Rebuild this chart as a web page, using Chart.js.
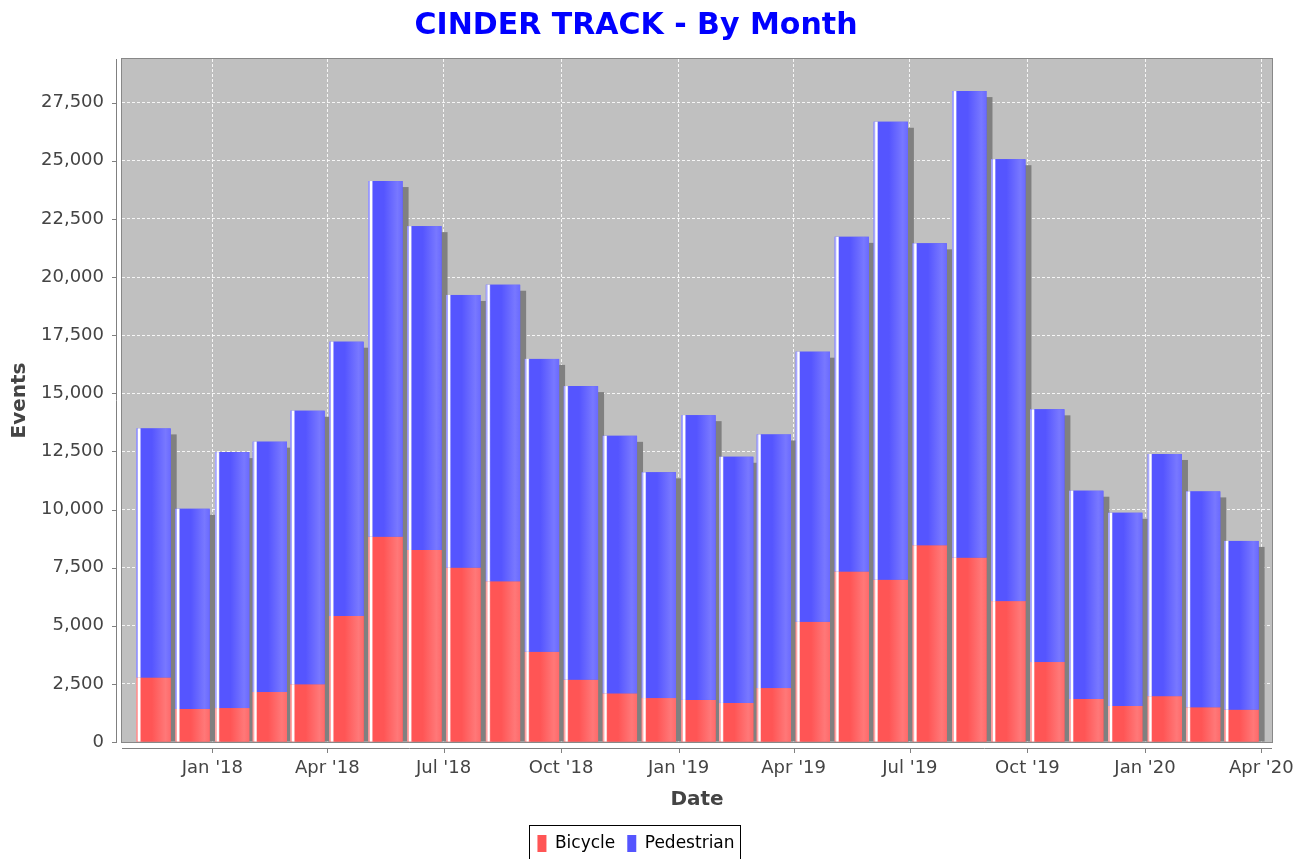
<!DOCTYPE html>
<html>
<head>
<meta charset="utf-8">
<title>CINDER TRACK - By Month</title>
<script src="https://cdn.jsdelivr.net/npm/chart.js@4.4.1/dist/chart.umd.min.js"></script>
<style>
  html, body { margin: 0; padding: 0; background: #fff; overflow: hidden; }
</style>
</head>
<body>
<canvas id="chart" width="1310" height="880"></canvas>
<script>
const months = [
  '2017-11', '2017-12',
  '2018-01', '2018-02', '2018-03', '2018-04', '2018-05', '2018-06',
  '2018-07', '2018-08', '2018-09', '2018-10', '2018-11', '2018-12',
  '2019-01', '2019-02', '2019-03', '2019-04', '2019-05', '2019-06',
  '2019-07', '2019-08', '2019-09', '2019-10', '2019-11', '2019-12',
  '2020-01', '2020-02', '2020-03'
];
const bicycle = [
  2770, 1420,
  1460, 2150, 2480, 5420, 8830, 8260, 7500, 6910, 3880, 2680, 2090, 1890,
  1810, 1680, 2320, 5170, 7330, 6980, 8460, 7930, 6060, 3440, 1850, 1550,
  1970, 1490, 1390
];
const pedestrian = [
  10720, 8610,
  11010, 10770, 11770, 11800, 15300, 13930, 11730, 12760, 12600, 12630, 11080, 9710,
  12250, 10590, 10910, 11620, 14400, 19700, 12990, 20070, 19010, 10870, 8960, 8310,
  10420, 9290, 7260
];
const tickMonths = ['2018-01', '2018-04', '2018-07', '2018-10', '2019-01',
                    '2019-04', '2019-07', '2019-10', '2020-01', '2020-04'];
const tickLabels = ["Jan '18", "Apr '18", "Jul '18", "Oct '18", "Jan '19",
                    "Apr '19", "Jul '19", "Oct '19", "Jan '20", "Apr '20"];
const yTicks = [0, 2500, 5000, 7500, 10000, 12500, 15000, 17500, 20000, 22500, 25000, 27500];

const FONT = "'DejaVu Sans', sans-serif";
const t0 = Date.UTC(2018, 0, 1);

// days since 1 Jan 2018 for the first day of a month (m may overflow)
function dayOf(y, m) {
  return (Date.UTC(y, m - 1, 1) - t0) / 86400000;
}
function monthStart(ym) {
  const [y, m] = ym.split('-').map(Number);
  return dayOf(y, m);
}
function monthMid(ym) {
  const [y, m] = ym.split('-').map(Number);
  return (dayOf(y, m) + dayOf(y, m + 1)) / 2;
}

const colors = {
  Bicycle:    { base: '#ff5555', light: '#ff7878', mid: '#ff6a6a', edge: '#ffa8a8' },
  Pedestrian: { base: '#5555ff', light: '#7878ff', mid: '#6a6aff', edge: '#a8a8ff' }
};

function barGradient(ctx, left, width, c) {
  const g = ctx.createLinearGradient(left, 0, left + width, 0);
  g.addColorStop(0, c.edge);
  g.addColorStop(0.04, c.edge);
  g.addColorStop(0.06, '#ffffff');
  g.addColorStop(0.10, '#ffffff');
  g.addColorStop(0.14, c.base);
  g.addColorStop(0.45, c.base);
  g.addColorStop(0.85, c.light);
  g.addColorStop(1, c.mid);
  return g;
}

const jfreeLook = {
  id: 'jfreeLook',
  beforeDraw(chart) {
    const { ctx, chartArea: a } = chart;
    ctx.save();
    ctx.fillStyle = '#ffffff';
    ctx.fillRect(0, 0, chart.width, chart.height);
    ctx.fillStyle = '#c0c0c0';
    ctx.fillRect(a.left, a.top, a.right - a.left, a.bottom - a.top);
    ctx.restore();
  },
  beforeDatasetsDraw(chart) {
    // drop shadow behind each stacked bar
    const { ctx, chartArea: a } = chart;
    const low = chart.getDatasetMeta(0).data;
    const high = chart.getDatasetMeta(1).data;
    ctx.save();
    ctx.beginPath();
    ctx.rect(a.left, a.top, a.right - a.left, a.bottom - a.top);
    ctx.clip();
    ctx.fillStyle = '#808080';
    high.forEach((bar, i) => {
      const { x, y, width } = bar.getProps(['x', 'y', 'width'], true);
      const base = low[i].getProps(['base'], true).base;
      ctx.fillRect(x - width / 2 + 6, y + 6, width, base - y - 6);
    });
    ctx.restore();
  },
  afterDatasetsDraw(chart) {
    const { ctx, chartArea: a } = chart;
    ctx.save();
    chart.data.datasets.forEach((ds, di) => {
      const c = colors[ds.label];
      chart.getDatasetMeta(di).data.forEach(bar => {
        const { x, y, base, width } = bar.getProps(['x', 'y', 'base', 'width'], true);
        const left = x - width / 2;
        const top = Math.min(y, base);
        ctx.fillStyle = barGradient(ctx, left, width, c);
        ctx.fillRect(left, top, width, Math.abs(base - y));
      });
    });

    // plot outline
    ctx.strokeStyle = '#888888';
    ctx.lineWidth = 1;
    ctx.strokeRect(a.left - 0.5, a.top - 0.5, a.right - a.left + 1, a.bottom - a.top + 1);

    // axis lines, offset from the plot like JFreeChart
    const ys = chart.scales.y;
    const xs = chart.scales.x;
    ctx.strokeStyle = '#808080';
    ctx.beginPath();
    ctx.moveTo(a.left - 5.5, a.top);
    ctx.lineTo(a.left - 5.5, a.bottom);
    ys.ticks.forEach(t => {
      const py = Math.round(ys.getPixelForValue(t.value)) + 0.5;
      ctx.moveTo(a.left - 10, py);
      ctx.lineTo(a.left - 5, py);
    });
    ctx.moveTo(a.left, a.bottom + 6.5);
    ctx.lineTo(a.right, a.bottom + 6.5);
    xs.ticks.forEach(t => {
      const px = Math.round(xs.getPixelForValue(t.value)) + 0.5;
      ctx.moveTo(px, a.bottom + 6);
      ctx.lineTo(px, a.bottom + 11);
    });
    ctx.stroke();
    ctx.restore();
  },
  afterDraw(chart) {
    // frame around the legend
    const boxes = chart.legend.legendHitBoxes;
    if (!boxes || !boxes.length) return;
    const ctx = chart.ctx;
    const l = Math.min(...boxes.map(b => b.left)) - 8;
    const r = Math.max(...boxes.map(b => b.left + b.width)) + 6;
    const t = boxes[0].top - 10;
    const b = boxes[0].top + boxes[0].height + 10;
    ctx.save();
    ctx.strokeStyle = '#000000';
    ctx.lineWidth = 1;
    ctx.strokeRect(Math.round(l) + 0.5, Math.round(t) + 0.5, Math.round(r - l), Math.round(b - t));
    ctx.restore();
  }
};

new Chart(document.getElementById('chart'), {
  type: 'bar',
  data: {
    datasets: [
      {
        label: 'Bicycle',
        data: months.map((m, i) => ({ x: monthMid(m), y: bicycle[i] })),
        backgroundColor: colors.Bicycle.base,
        borderWidth: 0
      },
      {
        label: 'Pedestrian',
        data: months.map((m, i) => ({ x: monthMid(m), y: pedestrian[i] })),
        backgroundColor: colors.Pedestrian.base,
        borderWidth: 0
      }
    ]
  },
  options: {
    responsive: false,
    animation: false,
    layout: { padding: { left: 0, right: 38, top: 0, bottom: 18 } },
    datasets: { bar: { categoryPercentage: 0.91, barPercentage: 1 } },
    plugins: {
      title: {
        display: true,
        text: 'CINDER TRACK - By Month',
        color: '#0000ff',
        font: { family: FONT, size: 30, weight: 'bold' },
        padding: { top: 8, bottom: 15 }
      },
      legend: {
        position: 'bottom',
        labels: {
          boxWidth: 9,
          boxHeight: 17,
          padding: 12,
          color: '#000000',
          font: { family: FONT, size: 17 }
        }
      },
      tooltip: { enabled: false }
    },
    scales: {
      x: {
        type: 'linear',
        stacked: true,
        offset: false,
        min: -70.7,
        max: 829.4,
        afterBuildTicks: s => { s.ticks = tickMonths.map(m => ({ value: monthStart(m) })); },
        afterFit: s => { s.height = 81; },
        grid: { offset: false, color: 'rgba(255,255,255,0.85)', lineWidth: 1, drawTicks: false },
        border: { display: false, dash: [3, 2] },
        ticks: {
          callback: (v, i) => tickLabels[i],
          autoSkip: false,
          maxRotation: 0,
          padding: 16,
          color: '#444444',
          font: { family: FONT, size: 18 }
        },
        title: {
          display: true,
          text: 'Date',
          color: '#444444',
          font: { family: FONT, size: 20, weight: 'bold' },
          padding: { top: 0, bottom: 11 }
        }
      },
      y: {
        stacked: true,
        min: 0,
        max: 29380,
        afterBuildTicks: s => { s.ticks = yTicks.map(v => ({ value: v })); },
        afterFit: s => { s.width = 122; },
        grid: { color: 'rgba(255,255,255,0.85)', lineWidth: 1, drawTicks: false },
        border: { display: false, dash: [3, 2] },
        ticks: {
          padding: 18,
          color: '#444444',
          font: { family: FONT, size: 18 },
          callback: v => v.toLocaleString('en-US')
        },
        title: {
          display: true,
          text: 'Events',
          color: '#444444',
          font: { family: FONT, size: 20, weight: 'bold' },
          padding: { top: 8, bottom: 0 }
        }
      }
    }
  },
  plugins: [jfreeLook]
});
</script>
</body>
</html>
